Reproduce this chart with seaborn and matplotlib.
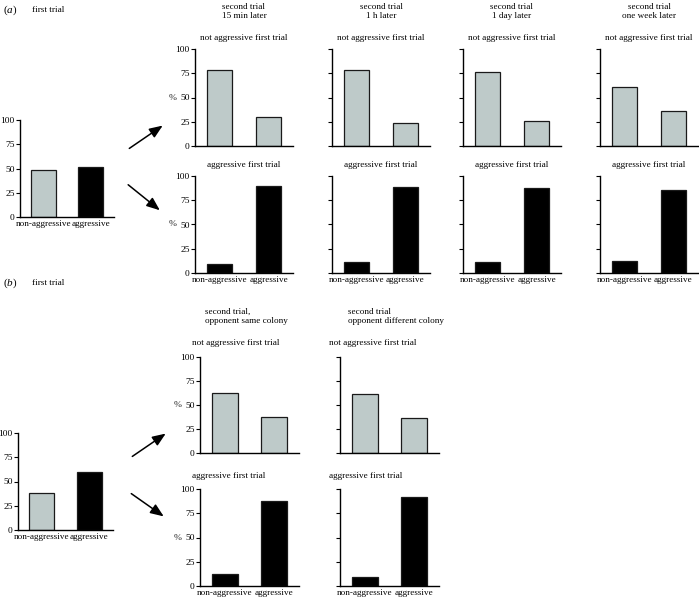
import matplotlib
matplotlib.use('Agg')
import matplotlib.pyplot as plt
from matplotlib.patches import FancyArrowPatch
import seaborn as sns

# data (% of ants)
categories = ['non-aggressive', 'aggressive']

first_trial_a = [48, 52]
intervals_a = ['second trial\n15 min later', 'second trial\n1 h later',
               'second trial\n1 day later', 'second trial\none week later']
not_aggr_a = [[78, 30], [78, 24], [76, 26], [61, 36]]
aggr_a = [[9, 90], [11, 89], [11, 88], [12, 86]]

first_trial_b = [38, 60]
opponents_b = ['second trial,\nopponent same colony', 'second trial\nopponent different colony']
not_aggr_b = [[63, 38], [61, 36]]
aggr_b = [[12, 88], [9, 92]]

light = '#bccccb'
dark = '#000000'

sns.set_style('ticks')
plt.rcParams['font.family'] = ['Liberation Serif', 'DejaVu Serif']
plt.rcParams['mathtext.fontset'] = 'custom'
plt.rcParams['mathtext.rm'] = 'Liberation Serif'
plt.rcParams['mathtext.it'] = 'Liberation Serif:italic'
plt.rcParams['font.size'] = 6.6
plt.rcParams['axes.edgecolor'] = 'black'
plt.rcParams['xtick.color'] = 'black'
plt.rcParams['ytick.color'] = 'black'
plt.rcParams['text.color'] = 'black'

W, H = 699, 599
fig = plt.figure(figsize=(W / 100, H / 100), dpi=100)


def px_axes(left, top, width=98, height=97):
    return fig.add_axes([left / W, 1 - (top + height) / H, width / W, height / H])


def ftext(x, y, s, **kw):
    kw.setdefault('va', 'center')
    fig.text(x / W, 1 - y / H, s, **kw)


def bars(ax, values, colors, ylabels=False, xlabels=True, pct=False):
    sns.barplot(x=categories, y=values, hue=categories,
                palette=dict(zip(categories, colors)), legend=False,
                width=0.52, edgecolor='#1a1a1a', linewidth=0.9, ax=ax)
    ax.set_ylim(0, 100)
    ax.set_xlim(-0.5, 1.5)
    ax.set_yticks([0, 25, 50, 75, 100])
    sns.despine(ax=ax)
    for s in ('left', 'bottom'):
        ax.spines[s].set_linewidth(1.0)
    ax.tick_params(axis='x', length=0, pad=2, labelsize=6.6, labelbottom=xlabels)
    ax.tick_params(axis='y', length=3, width=0.8, pad=0.8, labelsize=6.8, labelleft=ylabels)
    ax.set_xlabel('')
    if pct:
        ax.set_ylabel('%', rotation=0, va='center', ha='center', fontsize=6.8)
        ax.yaxis.set_label_coords(-0.23, 0.5)
    else:
        ax.set_ylabel('')


def arrow(x0, y0, x1, y1):
    fig.add_artist(FancyArrowPatch((x0 / W, 1 - y0 / H), (x1 / W, 1 - y1 / H),
                                   transform=fig.transFigure,
                                   arrowstyle='-|>,head_length=0.5,head_width=0.2',
                                   mutation_scale=16, lw=1.1, color='black'))


# ---- panel (a) ----
ftext(3, 10, r'($\it{a}$)', fontsize=8)
ftext(32, 10, 'first trial')
ax = px_axes(20, 120, 94, 97)
bars(ax, first_trial_a, [light, dark], ylabels=True)

arrow(127, 150, 165, 124)
arrow(126, 183, 162, 212)

lefts_a = [195, 332, 463, 600]
for i, left in enumerate(lefts_a):
    ftext(left + 49, 11.5, intervals_a[i], ha='center', multialignment='center')
    ftext(left + 49, 38, 'not aggressive first trial', ha='center')
    ax = px_axes(left, 49)
    bars(ax, not_aggr_a[i], [light, light], ylabels=(i == 0), xlabels=False, pct=(i == 0))
    ftext(left + 49, 165, 'aggressive first trial', ha='center')
    ax = px_axes(left, 176)
    bars(ax, aggr_a[i], [dark, dark], ylabels=(i == 0), pct=(i == 0))

# ---- panel (b) ----
ftext(3, 283, r'($\it{b}$)', fontsize=8)
ftext(32, 283, 'first trial')
ax = px_axes(18, 433, 95, 97)
bars(ax, first_trial_b, [light, dark], ylabels=True)

arrow(130, 458, 168, 432)
arrow(129, 492, 166, 518)

lefts_b = [200, 340]
for i, left in enumerate(lefts_b):
    ftext(left + 5 + (3 if i else 0), 316.5, opponents_b[i], ha='left')
    ftext(left - 8 - (3 if i else 0), 343, 'not aggressive first trial', ha='left')
    ax = px_axes(left, 357, 99, 96)
    bars(ax, not_aggr_b[i], [light, light], ylabels=(i == 0), xlabels=False, pct=(i == 0))
    ftext(left - 8 - (3 if i else 0), 476, 'aggressive first trial', ha='left')
    ax = px_axes(left, 489, 99, 97)
    bars(ax, aggr_b[i], [dark, dark], ylabels=(i == 0), pct=(i == 0))

fig.savefig('out.png', dpi=100)
